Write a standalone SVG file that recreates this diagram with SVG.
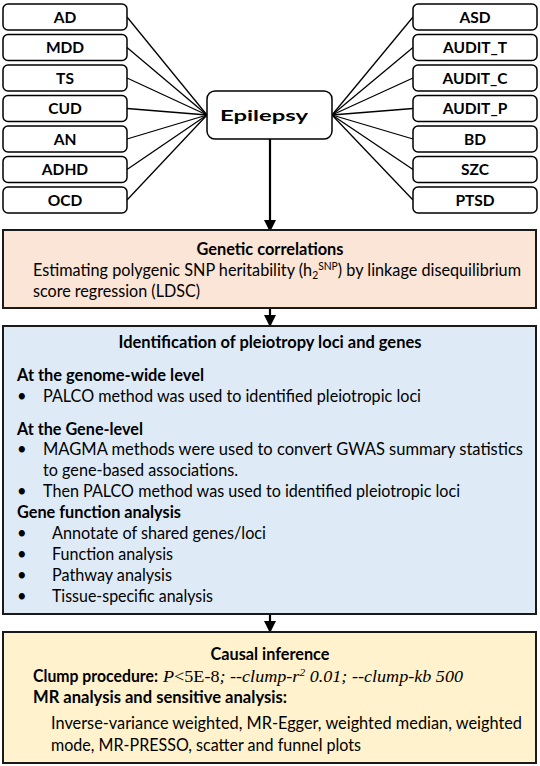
<svg xmlns="http://www.w3.org/2000/svg" width="540" height="766" viewBox="0 0 540 766">
<defs>
<style>
.nb{fill:#fff;stroke:#000;stroke-width:1.5}
.nl{font-family:Lato,"Open Sans","Liberation Sans",sans-serif;font-weight:bold;font-size:15.5px;fill:#000;text-anchor:middle}
.c{stroke:#000;stroke-width:1.3;fill:none}
.ar{stroke:#000;stroke-width:2.2;fill:none}
.bx{stroke:#1a1a1a;stroke-width:2}
.t{font-family:Lato,"Open Sans","Liberation Sans",sans-serif;font-size:16.5px;fill:#000}
.b{font-weight:bold}
.m{text-anchor:middle}
.s{font-family:"Liberation Serif","Times New Roman",serif;font-style:italic;font-size:17.5px;fill:#000}
</style>
<marker id="ah" markerUnits="userSpaceOnUse" markerWidth="12" markerHeight="13" refX="11" refY="6" orient="auto">
<path d="M0,0 L12,6 L0,12 Z" fill="#000"/>
</marker>
</defs>

<g id="connectors">
<line class="c" x1="127" y1="17" x2="207" y2="115"/>
<line class="c" x1="127" y1="47.5" x2="207" y2="115"/>
<line class="c" x1="127" y1="78" x2="207" y2="115"/>
<line class="c" x1="127" y1="108.5" x2="207" y2="115"/>
<line class="c" x1="127" y1="139" x2="207" y2="115"/>
<line class="c" x1="127" y1="169.5" x2="207" y2="115"/>
<line class="c" x1="127" y1="200" x2="207" y2="115"/>
<line class="c" x1="332" y1="115" x2="413" y2="17"/>
<line class="c" x1="332" y1="115" x2="413" y2="47.5"/>
<line class="c" x1="332" y1="115" x2="413" y2="78"/>
<line class="c" x1="332" y1="115" x2="413" y2="108.5"/>
<line class="c" x1="332" y1="115" x2="413" y2="139"/>
<line class="c" x1="332" y1="115" x2="413" y2="169.5"/>
<line class="c" x1="332" y1="115" x2="413" y2="200"/>
<line class="ar" x1="270" y1="139" x2="270" y2="231" marker-end="url(#ah)"/>
<line class="ar" x1="270" y1="309" x2="270" y2="326" marker-end="url(#ah)"/>
<line class="ar" x1="270" y1="615" x2="270" y2="632" marker-end="url(#ah)"/>
</g>

<g id="n-AD"><rect class="nb" x="3" y="4" width="124" height="26" rx="5"/><text class="nl" x="65" y="22.5">AD</text></g>
<g id="n-MDD"><rect class="nb" x="3" y="34.5" width="124" height="26" rx="5"/><text class="nl" x="65" y="53">MDD</text></g>
<g id="n-TS"><rect class="nb" x="3" y="65" width="124" height="26" rx="5"/><text class="nl" x="65" y="83.5">TS</text></g>
<g id="n-CUD"><rect class="nb" x="3" y="95.5" width="124" height="26" rx="5"/><text class="nl" x="65" y="114">CUD</text></g>
<g id="n-AN"><rect class="nb" x="3" y="126" width="124" height="26" rx="5"/><text class="nl" x="65" y="144.5">AN</text></g>
<g id="n-ADHD"><rect class="nb" x="3" y="156.5" width="124" height="26" rx="5"/><text class="nl" x="65" y="175">ADHD</text></g>
<g id="n-OCD"><rect class="nb" x="3" y="187" width="124" height="26" rx="5"/><text class="nl" x="65" y="205.5">OCD</text></g>

<g id="n-ASD"><rect class="nb" x="413" y="4" width="124" height="26" rx="5"/><text class="nl" x="475" y="22.5">ASD</text></g>
<g id="n-AUDIT_T"><rect class="nb" x="413" y="34.5" width="124" height="26" rx="5"/><text class="nl" x="475" y="53">AUDIT_T</text></g>
<g id="n-AUDIT_C"><rect class="nb" x="413" y="65" width="124" height="26" rx="5"/><text class="nl" x="475" y="83.5">AUDIT_C</text></g>
<g id="n-AUDIT_P"><rect class="nb" x="413" y="95.5" width="124" height="26" rx="5"/><text class="nl" x="475" y="114">AUDIT_P</text></g>
<g id="n-BD"><rect class="nb" x="413" y="126" width="124" height="26" rx="5"/><text class="nl" x="475" y="144.5">BD</text></g>
<g id="n-SZC"><rect class="nb" x="413" y="156.5" width="124" height="26" rx="5"/><text class="nl" x="475" y="175">SZC</text></g>
<g id="n-PTSD"><rect class="nb" x="413" y="187" width="124" height="26" rx="5"/><text class="nl" x="475" y="205.5">PTSD</text></g>

<g id="n-Epilepsy"><rect class="nb" x="207" y="91" width="125" height="48" rx="8"/><text class="nl" x="264" y="121" font-size="18" textLength="88" lengthAdjust="spacingAndGlyphs">Epilepsy</text></g>

<g id="n-genetic">
<rect class="bx" x="3" y="230" width="533" height="78" fill="#FBE5D6"/>
<text class="t b m" x="270" y="255" textLength="147" lengthAdjust="spacingAndGlyphs">Genetic correlations</text>
<text class="t" x="33" y="276" textLength="488" lengthAdjust="spacingAndGlyphs">Estimating polygenic SNP heritability (h<tspan font-size="10.5" dy="3">2</tspan><tspan font-size="10.5" dy="-9">SNP</tspan><tspan dy="6">) by linkage disequilibrium</tspan></text>
<text class="t" x="33" y="297" textLength="167" lengthAdjust="spacingAndGlyphs">score regression (LDSC)</text>
</g>

<g id="n-pleiotropy">
<rect class="bx" x="3" y="326" width="533" height="288" fill="#DEEBF7"/>
<text class="t b m" x="270" y="348" textLength="303" lengthAdjust="spacingAndGlyphs">Identification of pleiotropy loci and genes</text>
<text class="t b" x="17" y="381" textLength="187" lengthAdjust="spacingAndGlyphs">At the genome-wide level</text>
<text class="t" x="17" y="402">•</text>
<text class="t" x="43" y="402" textLength="378" lengthAdjust="spacingAndGlyphs">PALCO method was used to identified pleiotropic loci</text>
<text class="t b" x="17" y="435" textLength="126" lengthAdjust="spacingAndGlyphs">At the Gene-level</text>
<text class="t" x="17" y="455">•</text>
<text class="t" x="43" y="455" textLength="480" lengthAdjust="spacingAndGlyphs">MAGMA methods were used to convert GWAS summary statistics</text>
<text class="t" x="43" y="476" textLength="195" lengthAdjust="spacingAndGlyphs">to gene-based associations.</text>
<text class="t" x="17" y="497">•</text>
<text class="t" x="43" y="497" textLength="417" lengthAdjust="spacingAndGlyphs">Then PALCO method was used to identified pleiotropic loci</text>
<text class="t b" x="17" y="518" textLength="164" lengthAdjust="spacingAndGlyphs">Gene function analysis</text>
<text class="t" x="17" y="539">•</text>
<text class="t" x="52" y="539" textLength="214" lengthAdjust="spacingAndGlyphs">Annotate of shared genes/loci</text>
<text class="t" x="17" y="560">•</text>
<text class="t" x="52" y="560" textLength="121" lengthAdjust="spacingAndGlyphs">Function analysis</text>
<text class="t" x="17" y="581">•</text>
<text class="t" x="52" y="581" textLength="120" lengthAdjust="spacingAndGlyphs">Pathway analysis</text>
<text class="t" x="17" y="602">•</text>
<text class="t" x="52" y="602" textLength="161" lengthAdjust="spacingAndGlyphs">Tissue-specific analysis</text>
</g>

<g id="n-causal">
<rect class="bx" x="3" y="632" width="533" height="131" fill="#FFF2CC"/>
<text class="t b m" x="270" y="660" textLength="119" lengthAdjust="spacingAndGlyphs">Causal inference</text>
<text class="t b" x="33" y="682" textLength="125" lengthAdjust="spacingAndGlyphs">Clump procedure:</text>
<text class="s" x="163" y="682" textLength="300" lengthAdjust="spacingAndGlyphs">P<tspan font-style="normal">&lt;5E-8</tspan>; --clump-r<tspan font-size="11" dy="-6">2</tspan><tspan dy="6"> 0.01; --clump-kb 500</tspan></text>
<text class="t b" x="33" y="703" textLength="254" lengthAdjust="spacingAndGlyphs">MR analysis and sensitive analysis:</text>
<text class="t" x="51" y="729" textLength="471" lengthAdjust="spacingAndGlyphs">Inverse-variance weighted, MR-Egger, weighted median, weighted</text>
<text class="t" x="51" y="751" textLength="310" lengthAdjust="spacingAndGlyphs">mode, MR-PRESSO, scatter and funnel plots</text>
</g>
</svg>
